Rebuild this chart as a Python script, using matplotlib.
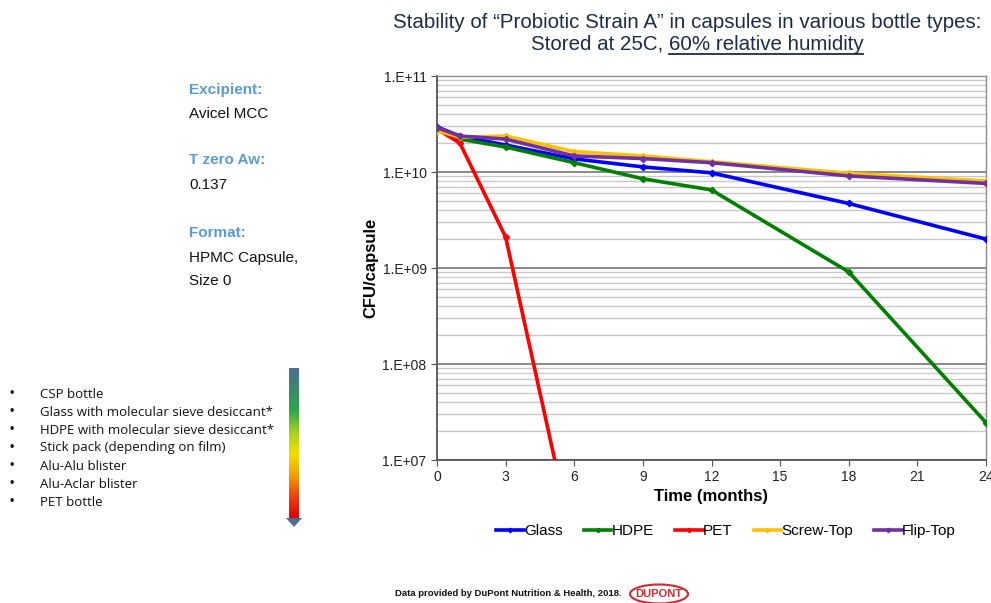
import numpy as np
import matplotlib
matplotlib.use("Agg")
import matplotlib.pyplot as plt
from matplotlib.ticker import FixedLocator, FuncFormatter, LogLocator, NullFormatter
from matplotlib.patches import Ellipse, Polygon
from matplotlib.colors import LinearSegmentedColormap

plt.rcParams['font.family'] = ['Liberation Sans', 'DejaVu Sans']

# ---------------- data ----------------
months = [0, 1, 3, 6, 9, 12, 18, 24]
glass = [2.95e10, 2.37e10, 1.91e10, 1.37e10, 1.13e10, 9.8e9, 4.7e9, 2.0e9]
hdpe = [2.8e10, 2.2e10, 1.82e10, 1.25e10, 8.5e9, 6.5e9, 9.1e8, 2.45e7]
pet_months = [0, 1, 3, 6]
pet = [2.8e10, 2.0e10, 2.1e9, 1.2e6]
screw_top = [2.7e10, 2.3e10, 2.37e10, 1.63e10, 1.47e10, 1.28e10, 9.7e9, 8.05e9]
flip_top = [2.9e10, 2.37e10, 2.2e10, 1.47e10, 1.38e10, 1.25e10, 9.1e9, 7.6e9]

series = [
    ("Glass", months, glass, "#0000FF"),
    ("HDPE", months, hdpe, "#008000"),
    ("PET", pet_months, pet, "#FF0000"),
    ("Screw-Top", months, screw_top, "#FFC000"),
    ("Flip-Top", months, flip_top, "#7030A0"),
]
x_ticks = [0, 3, 6, 9, 12, 15, 18, 21, 24]
y_ticks = [1e7, 1e8, 1e9, 1e10, 1e11]

title_line1 = "Stability of \u201cProbiotic Strain A\u201d in capsules in various bottle types:"
title_line2 = "Stored at 25C, 60% relative humidity"
title_underlined = "60% relative humidity"

info_heads = ["Excipient:", "T zero Aw:", "Format:"]
info_values = [["Avicel MCC"], ["0.137"], ["HPMC Capsule,", "Size 0"]]

bullets = ["CSP bottle",
           "Glass with molecular sieve desiccant*",
           "HDPE with molecular sieve desiccant*",
           "Stick pack (depending on film)",
           "Alu-Alu blister",
           "Alu-Aclar blister",
           "PET bottle"]

footer = "Data provided by DuPont Nutrition & Health, 2018."

# ---------------- figure ----------------
W, H = 991, 603
fig = plt.figure(figsize=(W / 100, H / 100), dpi=100)
fig.patch.set_facecolor("white")

def fx(px):
    return px / W

def fy(py):
    return 1 - py / H

ax = fig.add_axes([fx(437), fy(460), fx(986) - fx(437), fy(76) - fy(460)])
ax.set_yscale("log")
ax.set_xlim(0, 24)
ax.set_ylim(1e7, 1e11)

for name, xs, ys, col in series:
    ax.plot(xs, ys, color=col, lw=2.6, marker="D", ms=3.2, mec=col, mfc=col,
            label=name, solid_joinstyle="round", zorder=3)

ax.xaxis.set_major_locator(FixedLocator(x_ticks))
ax.yaxis.set_major_locator(FixedLocator(y_ticks))
ax.yaxis.set_minor_locator(LogLocator(base=10, subs=np.arange(2, 10)))
ax.yaxis.set_minor_formatter(NullFormatter())
ax.yaxis.set_major_formatter(FuncFormatter(lambda v, p: "1.E+%02d" % int(round(np.log10(v)))))

ax.grid(which="major", axis="y", color="#7F7F7F", lw=1.3, zorder=1)
ax.grid(which="minor", axis="y", color="#C8C8C8", lw=1.0, zorder=1)
ax.set_axisbelow(True)
ax.tick_params(axis="both", which="major", labelsize=10, labelcolor="#222222",
               color="#555555", length=4, direction="out")
ax.tick_params(axis="y", which="minor", length=0)
for s in ["left", "bottom"]:
    ax.spines[s].set_color("#555555")
    ax.spines[s].set_linewidth(1.3)
for s in ["top", "right"]:
    ax.spines[s].set_color("#8C8C8C")
    ax.spines[s].set_linewidth(1.0)

ax.set_xlabel("Time (months)", fontsize=12, fontweight="bold", labelpad=3)
ax.set_ylabel("CFU/capsule", fontsize=12, fontweight="bold", labelpad=3)

leg = fig.legend(loc="center", bbox_to_anchor=(fx(726), fy(531)), ncol=5,
                 frameon=False, fontsize=11, handlelength=1.8, handletextpad=0.0,
                 columnspacing=1.4, markerscale=0.7, borderaxespad=0)

# ---------------- title ----------------
navy = "#1F2A44"
tfs = 14.8
fig.text(fx(687), fy(22), title_line1, ha="center", va="center", fontsize=tfs,
         color=navy)
t2 = fig.text(fx(697), fy(45), title_line2, ha="center", va="center", fontsize=tfs,
              color=navy)
fig.canvas.draw()
r = fig.canvas.get_renderer()
bb = t2.get_window_extent(r)
tmp = fig.text(0, 0, title_underlined, fontsize=tfs)
sw = tmp.get_window_extent(r).width
tmp.remove()
x0 = (bb.x1 - sw) / W
x1 = bb.x1 / W
yu = (bb.y0 + 1) / H
fig.add_artist(plt.Line2D([x0, x1], [yu, yu], color=navy, lw=1.3, transform=fig.transFigure))

# ---------------- left info ----------------
blue = "#5B9BD5"
ypos = [(90, [114]), (160, [185]), (233, [258, 281])]
for head, vals, (yh, yvs) in zip(info_heads, info_values, ypos):
    fig.text(fx(189), fy(yh), head, ha="left", va="center", fontsize=11,
             fontweight="bold", color=blue)
    for v, yv in zip(vals, yvs):
        fig.text(fx(189), fy(yv), v, ha="left", va="center", fontsize=11,
                 color="#111111")

# ---------------- bullet list ----------------
for i, b in enumerate(bullets):
    yy = 394 + i * 18
    fig.text(fx(10), fy(yy), "\u2022", ha="left", va="center", fontsize=9, color="#111111")
    fig.text(fx(40), fy(yy), b, ha="left", va="center", fontsize=9.5,
             color="#111111", family="Open Sans")

# ---------------- gradient arrow ----------------
cmap = LinearSegmentedColormap.from_list(
    "arr", ["#4F6D8F", "#3C8A6A", "#2EA84A", "#A8D020", "#F0E000", "#F5A000", "#F04010", "#E00000"])
aax = fig.add_axes([fx(289), fy(518), fx(299) - fx(289), fy(368) - fy(518)])
grad = np.linspace(0, 1, 256).reshape(-1, 1)
aax.imshow(grad, aspect="auto", cmap=cmap, extent=[0, 1, 1, 0])
aax.set_axis_off()
fig.add_artist(Polygon([[fx(286), fy(518)], [fx(302), fy(518)], [fx(294), fy(527)]],
                       closed=True, transform=fig.transFigure, facecolor="#4F6D8F",
                       edgecolor="none"))

# ---------------- footer ----------------
fig.text(fx(395), fy(594), footer, ha="left", va="center", fontsize=6.8,
         fontweight="bold", color="#111111")
fig.add_artist(Ellipse((fx(659), fy(594)), fx(58), 19 / H, transform=fig.transFigure,
                       facecolor="white", edgecolor="#D2282E", lw=1.5))
fig.text(fx(659), fy(594), "DUPONT", ha="center", va="center", fontsize=8,
         color="#D2282E", fontweight="bold")

fig.savefig("out.png", dpi=100, facecolor="white")
